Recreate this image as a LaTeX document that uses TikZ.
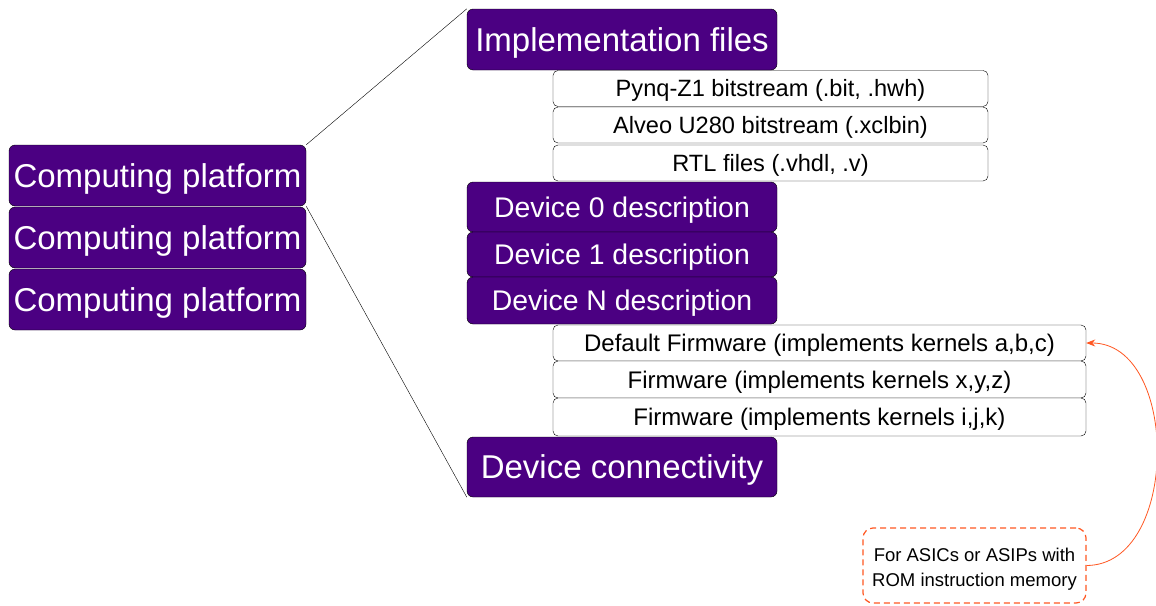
\documentclass[tikz,border=0pt]{standalone}
\usepackage{fontspec}
\setmainfont{Liberation Sans}
\usetikzlibrary{arrows.meta}
\definecolor{platform}{HTML}{4B0082}
\definecolor{annot}{RGB}{255,87,34}

\begin{document}
\begin{tikzpicture}[x=1pt,y=-1pt]
	\useasboundingbox (0,0) rectangle (1156,605);
	\begin{scope}[every node/.style = {draw=black, fill=platform, text=white,
			rounded corners=6pt, inner sep=0pt, text height=23.6pt, text depth=0pt,
			font=\fontsize{33}{36}\selectfont}]
		\node[minimum width=297pt, minimum height=61pt] (cp1) at (157.5,175.5) {Computing platform};
		\node[minimum width=297pt, minimum height=61pt] (cp2) at (157.5,237.5) {Computing platform};
		\node[minimum width=297pt, minimum height=61pt] (cp3) at (157.5,299.5) {Computing platform};
		\node[minimum width=310pt, minimum height=61pt] (impl) at (622,39.5) {Implementation files};
		\node[minimum width=310pt, minimum height=60pt] (conn) at (622,467) {Device connectivity};
	\end{scope}
	\begin{scope}[every node/.style = {draw=black, fill=platform, text=white,
			rounded corners=6pt, inner sep=0pt, minimum width=310pt,
			text height=20.3pt, text depth=0pt, font=\fontsize{28.4}{31}\selectfont}]
		\node[minimum height=50pt] (dev0) at (622,207) {Device 0 description};
		\node[minimum height=45pt] (dev1) at (622,254.5) {Device 1 description};
		\node[minimum height=47pt] (devN) at (622,300.5) {Device N description};
	\end{scope}
	\begin{scope}[every node/.style = {draw=black, fill=white, text=black,
			rounded corners=5pt, inner sep=0pt, text depth=0pt}]
		\begin{scope}[every node/.append style={text height=16.9pt, font=\fontsize{23.6}{26}\selectfont}]
			\node[minimum width=435pt, minimum height=36pt] (bit) at (770.5,88.5) {Pynq-Z1 bitstream (.bit, .hwh)};
			\node[minimum width=435pt, minimum height=36pt] (xcl) at (770.5,125) {Alveo U280 bitstream (.xclbin)};
			\node[minimum width=435pt, minimum height=36pt] (rtl) at (770.5,163) {RTL files (.vhdl, .v)};
		\end{scope}
		\begin{scope}[every node/.append style={text height=17.2pt, font=\fontsize{24}{26}\selectfont}]
			\node[minimum width=533pt, minimum height=36pt] (fw0) at (819.5,343) {Default Firmware (implements kernels a,b,c)};
			\node[minimum width=533pt, minimum height=37pt] (fw1) at (819.5,379.5) {Firmware (implements kernels x,y,z)};
			\node[minimum width=533pt, minimum height=38pt] (fw2) at (819.5,417) {Firmware (implements kernels i,j,k)};
		\end{scope}
	\end{scope}
	\node[draw=annot, very thick, dashed, dash pattern=on 6pt off 4pt, rounded corners=10pt,
		minimum width=223pt, minimum height=75pt, inner sep=0pt, align=center,
		font=\fontsize{18.5}{25}\selectfont] (note) at (974.5,565.5)
		{\rule{0pt}{20pt}For ASICs or ASIPs with\\ROM instruction memory};
	\draw (cp1.north east) -- (impl.north west);
	\draw (cp1.south east) -- (conn.south west);
	\draw[annot, thick, -{Stealth[length=9pt, width=7pt]}] (note.east)
		.. controls (1180,565) and (1180,343) .. (fw0.east);
\end{tikzpicture}
\end{document}
